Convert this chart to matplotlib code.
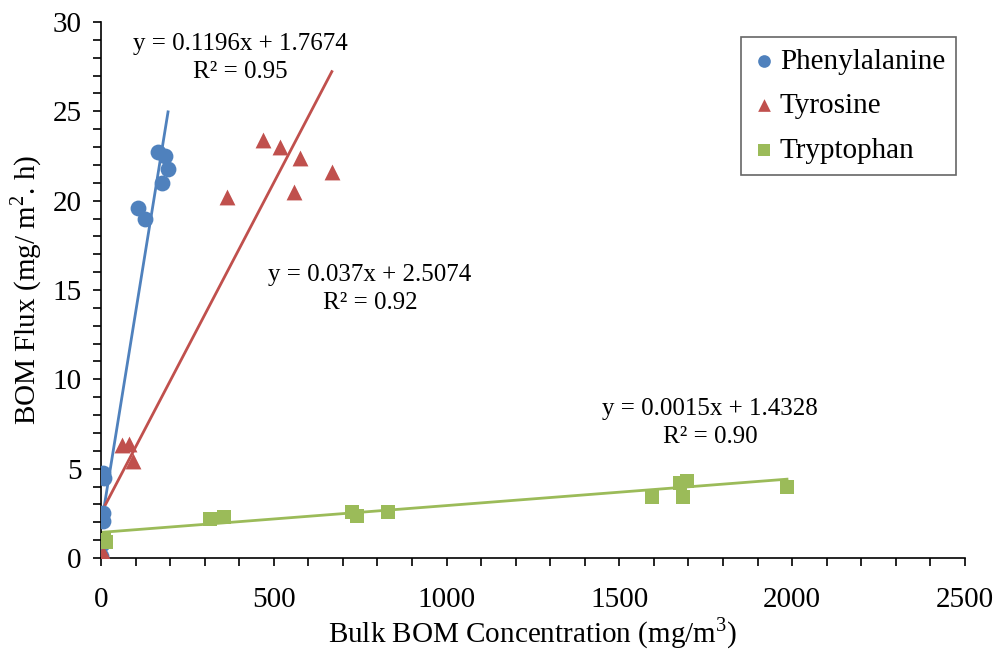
import matplotlib
matplotlib.use("Agg")
import matplotlib.pyplot as plt
import numpy as np

plt.rcParams['font.family'] = ['Liberation Serif', 'DejaVu Serif']
plt.rcParams['mathtext.fontset'] = 'custom'
plt.rcParams['mathtext.rm'] = 'Liberation Serif'

# Data
phe_x = [165, 185, 176, 194, 107, 127, 6, 8, 6, 5, 2, 1]
phe_y = [22.7, 22.5, 21.0, 21.8, 19.6, 19.0, 4.75, 4.45, 2.5, 2.05, 0.8, 0.1]
tyr_x = [469, 518, 576, 668, 558, 364, 61, 81, 93, 5, 3]
tyr_y = [23.4, 23.0, 22.4, 21.6, 20.5, 20.2, 6.3, 6.4, 5.4, 0.3, 0.0]
trp_x = [10, 15, 316, 356, 726, 741, 830, 1594, 1675, 1695, 1685, 1985]
trp_y = [1.0, 0.9, 2.2, 2.3, 2.6, 2.35, 2.6, 3.4, 4.2, 4.3, 3.4, 4.0]

series_names = ["Phenylalanine", "Tyrosine", "Tryptophan"]
slopes = [0.1196, 0.037, 0.0015]
intercepts = [1.7674, 2.5074, 1.4328]
r2 = ["0.95", "0.92", "0.90"]
slope_txt = ["0.1196", "0.037", "0.0015"]
int_txt = ["1.7674", "2.5074", "1.4328"]

colors = ["#4F81BD", "#C0504D", "#9BBB59"]
markers = ["o", "^", "s"]

fig = plt.figure(figsize=(9.98, 6.51), dpi=100)
ax = fig.add_axes([0.1012, 0.1429, 0.8657, 0.8233])

xs = [phe_x, tyr_x, trp_x]
ys = [phe_y, tyr_y, trp_y]
sizes = [130, 130, 115]
for i in range(3):
    x = np.array(xs[i])
    xl = np.array([0, x.max()])
    ax.plot(xl, slopes[i] * xl + intercepts[i], color=colors[i], lw=2, zorder=2)
for i in range(3):
    ax.scatter(xs[i], ys[i], s=sizes[i], marker=markers[i], color=colors[i],
               label=series_names[i], zorder=3, linewidths=0)

label_pos = [(402, 28.0), (778, 15.08), (1762, 7.58)]
for i in range(3):
    ax.text(label_pos[i][0], label_pos[i][1],
            f"y = {slope_txt[i]}x + {int_txt[i]}\nR² = {r2[i]}",
            ha="center", va="center", fontsize=18, linespacing=1.35)

ax.set_xlim(0, 2500)
ax.set_ylim(0, 30)
ax.set_xticks(np.arange(0, 2501, 500))
ax.set_xticks(np.arange(0, 2501, 100), minor=True)
ax.set_yticks(np.arange(0, 31, 5))
ax.set_yticks(np.arange(0, 31, 1), minor=True)
ax.tick_params(axis='both', which='both', direction='out', length=6, width=1.2, labelsize=21)
ax.tick_params(axis='x', which='major', pad=15)
ax.tick_params(axis='y', which='major', pad=8)
for s in ['top', 'right']:
    ax.spines[s].set_visible(False)
for s in ['left', 'bottom']:
    ax.spines[s].set_linewidth(1.2)

ax.set_xlabel("Bulk BOM Concentration (mg/m$^3$)", fontsize=21, labelpad=2)
ax.set_ylabel("BOM Flux (mg/ m$^2$. h)", fontsize=21, labelpad=6)

leg = ax.legend(loc="upper right", bbox_to_anchor=(0.99, 0.972), fontsize=21,
                frameon=True, fancybox=False, edgecolor="#404040",
                handletextpad=0.15, handlelength=0.8, labelspacing=0.62,
                borderpad=0.38, markerscale=0.8, borderaxespad=0.0)
leg.get_frame().set_linewidth(1.2)

fig.savefig("out.png", dpi=100)
